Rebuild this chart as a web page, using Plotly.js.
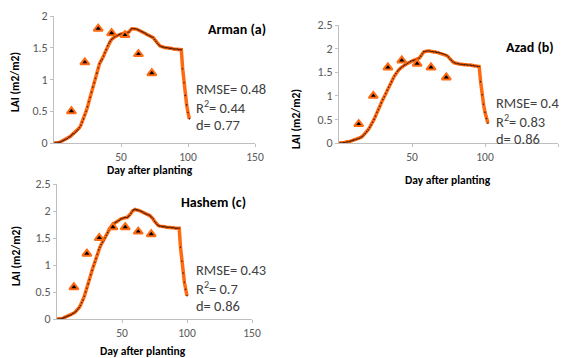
<!DOCTYPE html>
<html><head><meta charset="utf-8">
<script src="https://cdn.plot.ly/plotly-3.0.1.min.js"></script>
<style>html,body{margin:0;padding:0;background:#fff}#chart{width:565px;height:358px}</style>
</head><body><div id="chart"></div>
<script>
// Days after planting (simulation days)
const daysA = [0,1,2,3,4,5,6,7,8,9,10,11,12,13,14,15,16,17,18,19,20,21,22,23,24,25,26,27,28,29,30,31,32,33,34,35,36,37,38,39,40,41,42,43,44,45,46,47,48,49,50,51,52,53,54,55,56,57,58,59,60,61,62,63,64,65,66,67,68,69,70,71,72,73,74,75,76,77,78,79,80,81,82,83,84,85,86,87,88,89,90,91,92,93,94,95,96,97,98,99,100,101];
const simA = [0,0,0,0.01,0.01,0.02,0.03,0.04,0.05,0.06,0.07,0.09,0.1,0.12,0.14,0.15,0.17,0.19,0.21,0.24,0.28,0.33,0.38,0.44,0.5,0.57,0.65,0.72,0.8,0.88,0.95,1.02,1.1,1.18,1.25,1.29,1.32,1.37,1.42,1.47,1.53,1.57,1.6,1.63,1.65,1.67,1.68,1.69,1.7,1.71,1.72,1.72,1.73,1.73,1.73,1.74,1.75,1.78,1.8,1.8,1.8,1.8,1.79,1.78,1.77,1.76,1.75,1.74,1.73,1.71,1.7,1.69,1.68,1.67,1.66,1.63,1.6,1.57,1.55,1.53,1.52,1.51,1.51,1.5,1.5,1.5,1.49,1.49,1.49,1.48,1.48,1.48,1.48,1.47,1.47,1.47,1.17,0.95,0.75,0.6,0.48,0.38];
const daysB = [0,1,2,3,4,5,6,7,8,9,10,11,12,13,14,15,16,17,18,19,20,21,22,23,24,25,26,27,28,29,30,31,32,33,34,35,36,37,38,39,40,41,42,43,44,45,46,47,48,49,50,51,52,53,54,55,56,57,58,59,60,61,62,63,64,65,66,67,68,69,70,71,72,73,74,75,76,77,78,79,80,81,82,83,84,85,86,87,88,89,90,91,92,93,94,95,96,97,98,99,100,101,102];
const simB = [0,0,0,0.01,0.01,0.02,0.02,0.03,0.04,0.05,0.06,0.07,0.08,0.09,0.1,0.12,0.14,0.17,0.2,0.24,0.28,0.33,0.38,0.44,0.5,0.57,0.65,0.71,0.78,0.85,0.92,0.98,1.05,1.12,1.18,1.24,1.3,1.36,1.42,1.47,1.52,1.55,1.58,1.61,1.63,1.65,1.67,1.69,1.71,1.73,1.74,1.75,1.76,1.77,1.78,1.8,1.84,1.89,1.93,1.94,1.95,1.95,1.95,1.94,1.94,1.93,1.93,1.92,1.92,1.91,1.9,1.89,1.88,1.87,1.85,1.82,1.78,1.75,1.72,1.7,1.69,1.68,1.68,1.67,1.67,1.66,1.66,1.66,1.65,1.65,1.65,1.64,1.64,1.63,1.63,1.62,1.62,1.3,1.02,0.82,0.65,0.52,0.42];
const daysC = [0,1,2,3,4,5,6,7,8,9,10,11,12,13,14,15,16,17,18,19,20,21,22,23,24,25,26,27,28,29,30,31,32,33,34,35,36,37,38,39,40,41,42,43,44,45,46,47,48,49,50,51,52,53,54,55,56,57,58,59,60,61,62,63,64,65,66,67,68,69,70,71,72,73,74,75,76,77,78,79,80,81,82,83,84,85,86,87,88,89,90,91,92,93,94,95,96,97,98,99,100];
const simC = [0,0,0,0.01,0.01,0.02,0.03,0.04,0.05,0.06,0.07,0.08,0.1,0.11,0.13,0.15,0.18,0.21,0.25,0.3,0.35,0.42,0.5,0.57,0.65,0.73,0.82,0.9,0.98,1.05,1.12,1.2,1.28,1.33,1.38,1.42,1.45,1.5,1.55,1.6,1.65,1.69,1.72,1.75,1.77,1.79,1.8,1.82,1.83,1.85,1.86,1.87,1.88,1.88,1.88,1.9,1.92,1.96,2.0,2.02,2.03,2.02,2.02,2.01,2.0,1.99,1.98,1.96,1.95,1.94,1.93,1.92,1.9,1.88,1.85,1.81,1.78,1.75,1.73,1.72,1.72,1.71,1.71,1.71,1.7,1.7,1.7,1.7,1.69,1.69,1.69,1.68,1.68,1.68,1.68,1.33,1.07,0.85,0.68,0.55,0.43];

// Observed LAI
const obsDaysA = [13,23,33,43,53,63,73];
const obsA = [0.5,1.27,1.8,1.73,1.7,1.4,1.1];
const obsDaysB = [13.5,23.5,33.5,43,53.5,63,73.5];
const obsB = [0.4,1.0,1.6,1.75,1.68,1.6,1.39];
const obsDaysC = [13,23,32.5,43,52.5,62.5,72.5];
const obsC = [0.59,1.21,1.5,1.7,1.7,1.62,1.57];

const panelTitles = ['Arman (a)','Azad (b)','Hashem (c)'];
const statsA = ['RMSE= 0.48','R<sup>2</sup>= 0.44','d= 0.77'];
const statsB = ['RMSE= 0.4','R<sup>2</sup>= 0.83','d= 0.86'];
const statsC = ['RMSE= 0.43','R<sup>2</sup>= 0.7','d= 0.86'];
const xTickVals = [50,100,150];
const yTicksA = [0,0.5,1,1.5,2];
const yTicksBC = [0,0.5,1,1.5,2,2.5];

const ORANGE = '#FF6A10';
const FONT = 'Carlito, "Liberation Sans", Arial, sans-serif';

function simTrace(x,y,xa,ya){
  return {x:x,y:y,xaxis:xa,yaxis:ya,type:'scatter',mode:'lines+markers',
    line:{color:ORANGE,width:3.5},marker:{size:1.6,color:'#4a1c06'},hoverinfo:'skip',showlegend:false};
}
function obsTrace(x,y,xa,ya){
  return {x:x,y:y,xaxis:xa,yaxis:ya,type:'scatter',mode:'markers',
    marker:{symbol:'triangle-up',size:8,color:'#000',line:{color:ORANGE,width:2}},hoverinfo:'skip',showlegend:false};
}
const data = [
  simTrace(daysA,simA,'x','y'), obsTrace(obsDaysA,obsA,'x','y'),
  simTrace(daysB,simB,'x2','y2'), obsTrace(obsDaysB,obsB,'x2','y2'),
  simTrace(daysC,simC,'x3','y3'), obsTrace(obsDaysC,obsC,'x3','y3')
];

function xax(dom,anchor){
  return {domain:dom,anchor:anchor,range:[0,150],tickvals:xTickVals,
    showgrid:false,zeroline:false,showline:true,linecolor:'#bfbfbf',linewidth:1,
    ticks:'outside',ticklen:3,tickcolor:'#bfbfbf',tickfont:{family:FONT,size:11.5,color:'#595959'}};
}
function yax(dom,anchor,rng,tv){
  return {domain:dom,anchor:anchor,range:rng,tickvals:tv,
    showgrid:false,zeroline:false,showline:true,linecolor:'#bfbfbf',linewidth:1,
    ticks:'outside',ticklen:3,tickcolor:'#bfbfbf',tickfont:{family:FONT,size:12,color:'#595959'}};
}
const W=565,H=358;
function px(x){return x/W;} function py(y){return 1-y/H;}

const ann = [];
function txt(t,x,y,opts){
  ann.push(Object.assign({text:t,xref:'paper',yref:'paper',x:px(x),y:py(y),showarrow:false,
    xanchor:'left',yanchor:'middle',font:{family:FONT,size:14.5,color:'#404040'}},opts||{}));
}
// panel titles
const tf = {family:FONT,size:14,color:'#000'};
txt('<b>'+panelTitles[0]+'</b>',268,29,{xanchor:'right',font:tf});
txt('<b>'+panelTitles[1]+'</b>',556,48,{xanchor:'right',font:tf});
txt('<b>'+panelTitles[2]+'</b>',248,202,{xanchor:'right',font:tf});
// stats
[[statsA,194,[89,107,125]],[statsB,494,[103,121,139]],[statsC,194,[270,288,306]]].forEach(s=>{
  s[0].forEach((t,i)=>txt(t,s[1],s[2][i]));
});
// axis titles
const xt = {family:FONT,size:11.5,color:'#000'};
txt('<b>Day after planting</b>',150,170,{xanchor:'center',font:xt});
txt('<b>Day after planting</b>',448,180,{xanchor:'center',font:xt});
txt('<b>Day after planting</b>',143,351,{xanchor:'center',font:xt});
txt('<b>LAI (m2/m2)</b>',15,82,{xanchor:'center',textangle:-90,font:xt});
txt('<b>LAI (m2/m2)</b>',296,119,{xanchor:'center',textangle:-90,font:xt});
txt('<b>LAI (m2/m2)</b>',16,256,{xanchor:'center',textangle:-90,font:xt});

const layout = {
  width:W,height:H,margin:{l:0,r:0,t:0,b:0},paper_bgcolor:'#fff',plot_bgcolor:'rgba(0,0,0,0)',
  showlegend:false,font:{family:FONT},
  xaxis: xax([px(54),px(255)],'y'),
  yaxis: yax([py(143),py(16)],'x',[0,2],yTicksA),
  xaxis2: xax([px(339),px(558)],'y2'),
  yaxis2: yax([py(143),py(25)],'x2',[0,2.5],yTicksBC),
  xaxis3: xax([px(57),px(252)],'y3'),
  yaxis3: yax([py(319),py(184)],'x3',[0,2.5],yTicksBC),
  annotations:ann
};
Plotly.newPlot('chart',data,layout,{staticPlot:true,displayModeBar:false});
</script></body></html>
